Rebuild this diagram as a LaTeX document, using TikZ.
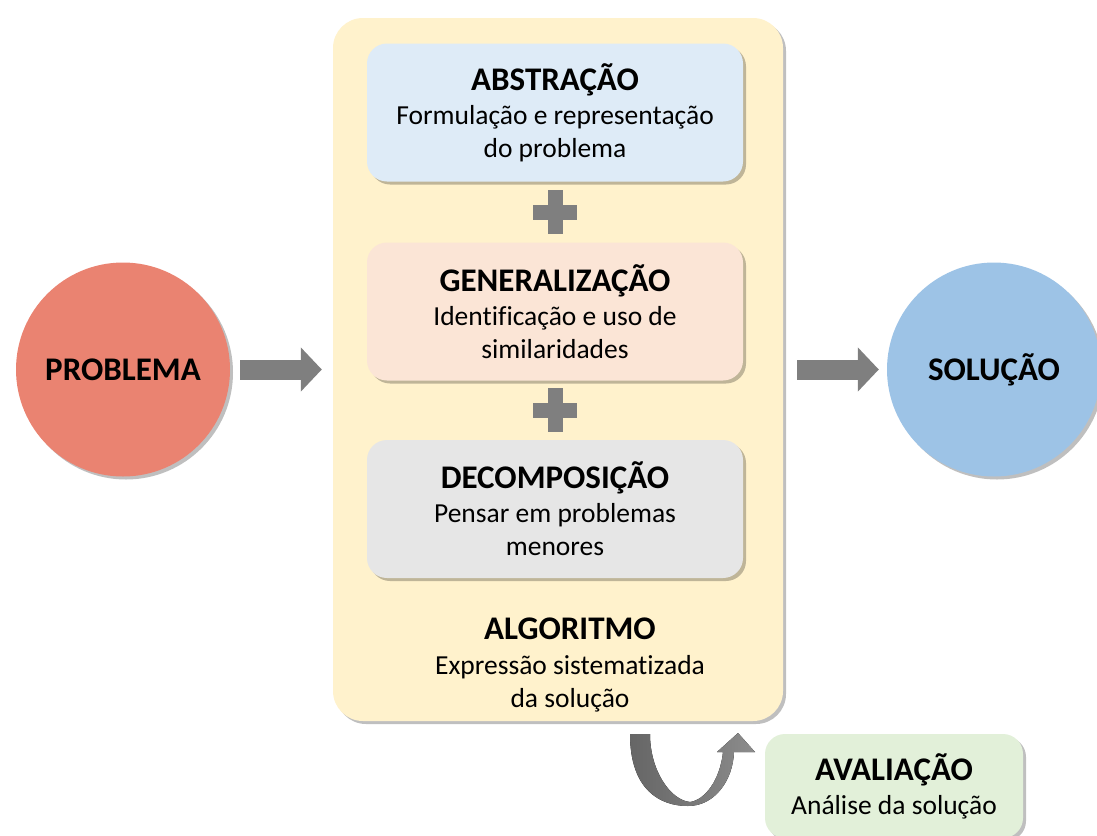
\documentclass[tikz,border=0pt]{standalone}
\usepackage{fontspec}
\setmainfont{Carlito}[Ligatures=CommonOff]
\usetikzlibrary{positioning,calc,shadows,arrows.meta}

\definecolor{algofill}{HTML}{FFF2CC}
\definecolor{absfill}{HTML}{DEEBF7}
\definecolor{genfill}{HTML}{FBE5D6}
\definecolor{decfill}{HTML}{E6E6E6}
\definecolor{avalfill}{HTML}{E2F0D9}
\definecolor{probfill}{HTML}{EA8371}
\definecolor{solfill}{HTML}{9DC3E6}
\definecolor{arrowgray}{HTML}{7F7F7F}

\newcommand{\steptitle}[1]{{\fontsize{33}{38}\selectfont\bfseries #1}}

\tikzset{
  softshadow/.style={drop shadow={shadow xshift=3pt, shadow yshift=-3pt, opacity=0.25, fill=black}},
  stagebox/.style={rectangle, rounded corners=20pt, minimum width=376pt, minimum height=138pt,
    align=center, inner sep=0pt, font=\fontsize{27.5}{33}\selectfont, softshadow},
  bigcircle/.style={circle, minimum size=214pt, inner sep=0pt, font=\fontsize{33}{38}\selectfont\bfseries, softshadow},
  blockarrow/.style={line width=20pt, arrowgray, -{Triangle[length=21pt, width=43pt]}},
  plusbar/.style={line width=15pt, arrowgray},
}

\begin{document}
\begin{tikzpicture}[x=1pt, y=-1pt]
    \useasboundingbox (0,0) rectangle (1097,835);

    % Algorithm container
    \node[rectangle, rounded corners=30pt, fill=algofill, minimum width=450pt, minimum height=703pt, softshadow] (algo) at (558,369.5) {};

    % Stages inside the algorithm
    \node[stagebox, fill=absfill] (abs) at (555,112.5) {\steptitle{ABSTRAÇÃO}\\[1pt] Formulação e representação\\ do problema};
    \node[stagebox, fill=genfill] (gen) at (555,311.5) {\steptitle{GENERALIZAÇÃO}\\[1pt] Identificação e uso de\\ similaridades};
    \node[stagebox, fill=decfill] (dec) at (555,509) {\steptitle{DECOMPOSIÇÃO}\\[1pt] Pensar em problemas\\ menores};
    \node[align=center, font=\fontsize{27.5}{33}\selectfont] (algolabel) at (570,665) {\steptitle{ALGORITMO}\\[2pt] Expressão sistematizada\\ da solução};

    % Plus signs
    \coordinate (plusA) at ($(abs.south)!0.5!(gen.north)$);
    \coordinate (plusB) at ($(gen.south)!0.5!(dec.north)$);
    \foreach \p in {plusA,plusB} {
        \draw[plusbar] ([xshift=-22pt]\p) -- ([xshift=22pt]\p);
        \draw[plusbar] ([yshift=22pt]\p) -- ([yshift=-22pt]\p);
    }

    % Problem and solution
    \node[bigcircle, fill=probfill] (prob) at (123,369.5) {PROBLEMA};
    \node[bigcircle, fill=solfill] (sol) at (994,369.5) {SOLUÇÃO};
    \draw[blockarrow] ([xshift=10pt]prob.east) -- ([xshift=-11pt]algo.west);
    \draw[blockarrow] ([xshift=14pt]algo.east) -- ([xshift=-8pt]sol.west);

    % Evaluation
    \node[stagebox, fill=avalfill, minimum width=258pt, minimum height=104pt] (aval) at (894,786) {\steptitle{AVALIAÇÃO}\\[1pt] Análise da solução};

    % Loop arrow
    \fill[left color=arrowgray!80!black, right color=arrowgray!90!white]
        (630,734) .. controls (630,790) and (660,806) .. (688,806)
        .. controls (715,806) and (733,780) .. (734,752)
        -- (755,752) -- (738,733) -- (717,752) -- (723,752)
        .. controls (720,780) and (705,800) .. (690,802)
        .. controls (670,800) and (650,770) .. (650,734) -- cycle;
\end{tikzpicture}
\end{document}
